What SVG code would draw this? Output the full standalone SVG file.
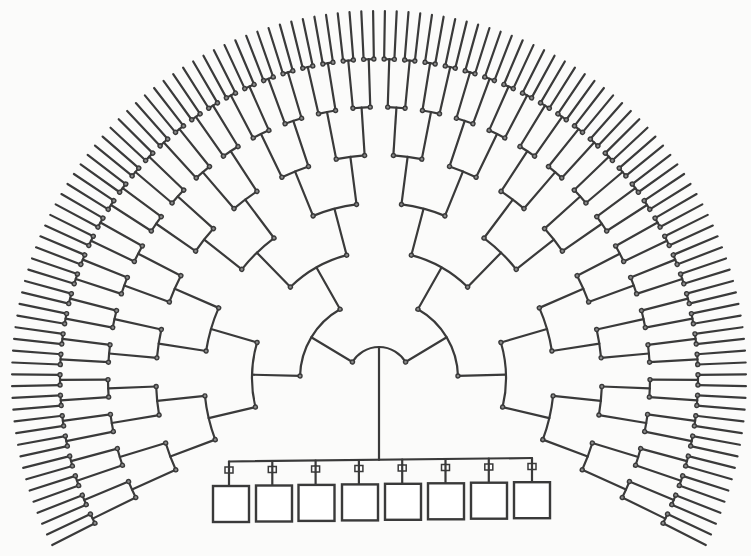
<svg xmlns="http://www.w3.org/2000/svg" xmlns:xlink="http://www.w3.org/1999/xlink" width="751" height="556" viewBox="0 0 751 556">
<style>
.ln{stroke:#3a3a3a;stroke-width:2.2;fill:none;stroke-linecap:round}
.dot{fill:#8a8a8a;stroke:#3a3a3a;stroke-width:1.4}
.box{fill:#ffffff;stroke:#3a3a3a;stroke-width:2.4}
.tap{fill:#ffffff;stroke:#3a3a3a;stroke-width:1.5}
</style>
<defs>
<g id="n7"><line class="ln" x1="0" y1="-319" x2="0" y2="-367"/><circle class="dot" cx="0" cy="-319" r="2"/></g>
<g id="n6"><line class="ln" x1="0" y1="-271" x2="0" y2="-319"/><path class="ln" d="M-5.132 -318.959A319 319 0 0 1 5.132 -318.959"/><circle class="dot" cx="0" cy="-271" r="2"/><use xlink:href="#n7" href="#n7" transform="rotate(-0.921875)"/><use xlink:href="#n7" href="#n7" transform="rotate(0.921875)"/></g>
<g id="n5"><line class="ln" x1="0" y1="-223" x2="0" y2="-271"/><path class="ln" d="M-8.719 -270.86A271 271 0 0 1 8.719 -270.86"/><circle class="dot" cx="0" cy="-223" r="2"/><use xlink:href="#n6" href="#n6" transform="rotate(-1.84375)"/><use xlink:href="#n6" href="#n6" transform="rotate(1.84375)"/></g>
<g id="n4"><line class="ln" x1="0" y1="-175" x2="0" y2="-223"/><path class="ln" d="M-14.342 -222.538A223 223 0 0 1 14.342 -222.538"/><circle class="dot" cx="0" cy="-175" r="2"/><use xlink:href="#n5" href="#n5" transform="rotate(-3.6875)"/><use xlink:href="#n5" href="#n5" transform="rotate(3.6875)"/></g>
<g id="n3"><line class="ln" x1="0" y1="-127" x2="0" y2="-175"/><path class="ln" d="M-22.464 -173.552A175 175 0 0 1 22.464 -173.552"/><circle class="dot" cx="0" cy="-127" r="2"/><use xlink:href="#n4" href="#n4" transform="rotate(-7.375)"/><use xlink:href="#n4" href="#n4" transform="rotate(7.375)"/></g>
<g id="n2"><line class="ln" x1="0" y1="-79" x2="0" y2="-127"/><path class="ln" d="M-32.334 -122.815A127 127 0 0 1 32.334 -122.815"/><circle class="dot" cx="0" cy="-79" r="2"/><use xlink:href="#n3" href="#n3" transform="rotate(-14.75)"/><use xlink:href="#n3" href="#n3" transform="rotate(14.75)"/></g>
<g id="n1"><line class="ln" x1="0" y1="-31" x2="0" y2="-79"/><path class="ln" d="M-38.901 -68.758A79 79 0 0 1 38.901 -68.758"/><circle class="dot" cx="0" cy="-31" r="2"/><use xlink:href="#n2" href="#n2" transform="rotate(-29.5)"/><use xlink:href="#n2" href="#n2" transform="rotate(29.5)"/></g>
</defs>
<rect x="0" y="0" width="751" height="556" fill="#fbfbfa"/>
<g id="connectors">
<g id="fan-tree" transform="translate(379,378)">
<path class="ln" d="M-26.572 -15.966A31 31 0 0 1 26.572 -15.966"/>
<use xlink:href="#n1" href="#n1" transform="rotate(-59)"/>
<use xlink:href="#n1" href="#n1" transform="rotate(59)"/>
</g>
<line class="ln" x1="379" y1="347" x2="379" y2="460"/>
<line class="ln" x1="229" y1="461.5" x2="532" y2="458"/>
<line class="ln" x1="229" y1="461.5" x2="229" y2="486"/>
<line class="ln" x1="272.3" y1="461" x2="272.3" y2="485.5"/>
<line class="ln" x1="315.6" y1="460.5" x2="315.6" y2="484.9"/>
<line class="ln" x1="358.9" y1="460" x2="358.9" y2="484.4"/>
<line class="ln" x1="402.2" y1="459.5" x2="402.2" y2="483.8"/>
<line class="ln" x1="445.5" y1="459" x2="445.5" y2="483.3"/>
<line class="ln" x1="488.8" y1="458.5" x2="488.8" y2="482.7"/>
<line class="ln" x1="532" y1="458" x2="532" y2="482.2"/>
</g>
<g id="child1"><rect class="tap" x="225" y="467" width="8" height="6"/><line class="ln" x1="229" y1="467" x2="229" y2="473"/><rect class="box" x="213" y="486" width="36" height="36"/></g>
<g id="child2"><rect class="tap" x="268.3" y="466.5" width="8" height="6"/><line class="ln" x1="272.3" y1="466.5" x2="272.3" y2="472.5"/><rect class="box" x="256" y="485.5" width="36" height="36"/></g>
<g id="child3"><rect class="tap" x="311.6" y="466" width="8" height="6"/><line class="ln" x1="315.6" y1="466" x2="315.6" y2="472"/><rect class="box" x="298.5" y="484.9" width="36" height="36"/></g>
<g id="child4"><rect class="tap" x="354.9" y="465.5" width="8" height="6"/><line class="ln" x1="358.9" y1="465.5" x2="358.9" y2="471.5"/><rect class="box" x="342" y="484.4" width="36" height="36"/></g>
<g id="child5"><rect class="tap" x="398.2" y="465" width="8" height="6"/><line class="ln" x1="402.2" y1="465" x2="402.2" y2="471"/><rect class="box" x="385" y="483.8" width="36" height="36"/></g>
<g id="child6"><rect class="tap" x="441.5" y="464.5" width="8" height="6"/><line class="ln" x1="445.5" y1="464.5" x2="445.5" y2="470.5"/><rect class="box" x="428" y="483.3" width="36" height="36"/></g>
<g id="child7"><rect class="tap" x="484.8" y="464" width="8" height="6"/><line class="ln" x1="488.8" y1="464" x2="488.8" y2="470"/><rect class="box" x="471" y="482.7" width="36" height="36"/></g>
<g id="child8"><rect class="tap" x="528" y="463.5" width="8" height="6"/><line class="ln" x1="532" y1="463.5" x2="532" y2="469.5"/><rect class="box" x="514" y="482.2" width="36" height="36"/></g>
</svg>
